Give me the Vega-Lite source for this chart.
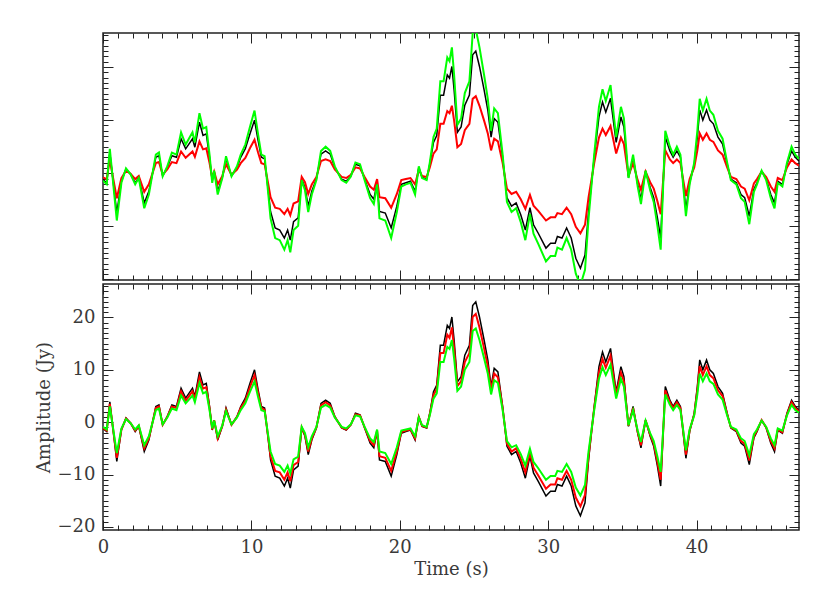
{
  "$schema": "https://vega.github.io/schema/vega-lite/v6.json",
  "background": "white",
  "padding": {"left": 34, "top": 31, "right": 31, "bottom": 5},
  "spacing": 0,
  "config": {
    "view": {"stroke": "#222", "strokeWidth": 1.5},
    "axis": {"grid": false, "domain": false, "labelFont": "DejaVu Serif", "titleFont": "DejaVu Serif", "labelFontSize": 18, "titleFontSize": 18, "labelColor": "#3a3a3a", "titleColor": "#3a3a3a", "titleFontWeight": "normal", "tickColor": "#222", "tickWidth": 1, "labelOverlap": false, "labelFlush": false, "labelBound": false}
  },
  "datasets": {
    "d": [
      {"t":0,"k":-1.2,"r1":-0.8,"g1":-1.4,"r2":-1.1,"g2":-0.9},
      {"t":0.25,"k":-1.8,"r1":-1.1,"g1":-2.1,"r2":-1.6,"g2":-1.4},
      {"t":0.46,"k":3.9,"r1":2.5,"g1":4.6,"r2":3.5,"g2":3.0},
      {"t":0.93,"k":-7.5,"r1":-4.7,"g1":-8.9,"r2":-6.8,"g2":-5.9},
      {"t":1.24,"k":-1.5,"r1":-0.9,"g1":-1.8,"r2":-1.4,"g2":-1.2},
      {"t":1.55,"k":0.8,"r1":0.5,"g1":0.9,"r2":0.7,"g2":0.6},
      {"t":1.86,"k":-0.2,"r1":-0.1,"g1":-0.2,"r2":-0.2,"g2":-0.2},
      {"t":2.17,"k":-1.8,"r1":-1.1,"g1":-2.1,"r2":-1.6,"g2":-1.4},
      {"t":2.41,"k":-0.8,"r1":-0.5,"g1":-0.9,"r2":-0.7,"g2":-0.6},
      {"t":2.78,"k":-5.6,"r1":-3.5,"g1":-6.6,"r2":-5.0,"g2":-4.4},
      {"t":3.09,"k":-3.4,"r1":-2.1,"g1":-4.0,"r2":-3.1,"g2":-2.7},
      {"t":3.56,"k":3.0,"r1":1.9,"g1":3.5,"r2":2.7,"g2":2.3},
      {"t":3.77,"k":3.3,"r1":2.1,"g1":3.9,"r2":3.0,"g2":2.6},
      {"t":4.02,"k":-0.5,"r1":-0.3,"g1":-0.6,"r2":-0.5,"g2":-0.4},
      {"t":4.33,"k":1.1,"r1":0.7,"g1":1.3,"r2":1.0,"g2":0.9},
      {"t":4.64,"k":3.3,"r1":2.1,"g1":3.9,"r2":3.0,"g2":2.6},
      {"t":4.95,"k":3.0,"r1":1.9,"g1":3.5,"r2":2.7,"g2":2.3},
      {"t":5.26,"k":6.5,"r1":4.1,"g1":7.7,"r2":5.9,"g2":5.1},
      {"t":5.57,"k":4.6,"r1":2.9,"g1":5.4,"r2":4.1,"g2":3.6},
      {"t":6.03,"k":6.5,"r1":4.1,"g1":7.7,"r2":5.9,"g2":5.1},
      {"t":6.19,"k":4.9,"r1":3.1,"g1":5.8,"r2":4.4,"g2":3.8},
      {"t":6.5,"k":9.6,"r1":6.0,"g1":11.3,"r2":8.6,"g2":7.5},
      {"t":6.74,"k":7.1,"r1":4.5,"g1":8.4,"r2":6.4,"g2":5.5},
      {"t":6.96,"k":7.4,"r1":4.7,"g1":8.7,"r2":6.7,"g2":5.8},
      {"t":7.18,"k":3.0,"r1":1.9,"g1":3.5,"r2":2.7,"g2":2.3},
      {"t":7.36,"k":-1.5,"r1":-0.9,"g1":-1.8,"r2":-1.4,"g2":-1.2},
      {"t":7.49,"k":0.4,"r1":0.3,"g1":0.5,"r2":0.4,"g2":0.3},
      {"t":7.73,"k":-3.4,"r1":-2.1,"g1":-4.0,"r2":-3.1,"g2":-2.7},
      {"t":8.04,"k":-0.8,"r1":-0.5,"g1":-0.9,"r2":-0.7,"g2":-0.6},
      {"t":8.29,"k":2.7,"r1":1.7,"g1":3.2,"r2":2.4,"g2":2.1},
      {"t":8.66,"k":-0.5,"r1":-0.3,"g1":-0.6,"r2":-0.5,"g2":-0.4},
      {"t":9.03,"k":1.1,"r1":0.7,"g1":1.3,"r2":1.0,"g2":0.9},
      {"t":9.28,"k":3.0,"r1":1.9,"g1":3.5,"r2":2.7,"g2":2.3},
      {"t":9.59,"k":4.6,"r1":2.9,"g1":5.4,"r2":4.1,"g2":3.6},
      {"t":9.9,"k":7.4,"r1":4.7,"g1":8.7,"r2":6.7,"g2":5.8},
      {"t":10.21,"k":10.0,"r1":6.3,"g1":11.8,"r2":9.0,"g2":7.8},
      {"t":10.45,"k":6.2,"r1":3.9,"g1":7.3,"r2":5.6,"g2":4.8},
      {"t":10.67,"k":3.0,"r1":1.9,"g1":3.5,"r2":2.7,"g2":2.3},
      {"t":10.89,"k":2.7,"r1":1.7,"g1":3.2,"r2":2.4,"g2":2.1},
      {"t":11.14,"k":-3.4,"r1":-2.1,"g1":-4.0,"r2":-3.1,"g2":-2.7},
      {"t":11.29,"k":-7.2,"r1":-4.5,"g1":-8.5,"r2":-6.5,"g2":-5.6},
      {"t":11.6,"k":-10.3,"r1":-6.5,"g1":-12.2,"r2":-9.3,"g2":-8.0},
      {"t":11.91,"k":-10.7,"r1":-6.7,"g1":-12.6,"r2":-9.6,"g2":-8.3},
      {"t":12.22,"k":-12.2,"r1":-7.7,"g1":-14.4,"r2":-11.0,"g2":-9.5},
      {"t":12.44,"k":-10.7,"r1":-6.7,"g1":-12.6,"r2":-9.6,"g2":-8.3},
      {"t":12.62,"k":-12.6,"r1":-7.9,"g1":-14.9,"r2":-11.3,"g2":-9.8},
      {"t":12.84,"k":-9.1,"r1":-5.7,"g1":-10.7,"r2":-8.2,"g2":-7.1},
      {"t":13.15,"k":-8.4,"r1":-5.3,"g1":-9.9,"r2":-7.6,"g2":-6.6},
      {"t":13.39,"k":-1.1,"r1":-0.7,"g1":-1.3,"r2":-1.0,"g2":-0.9},
      {"t":13.61,"k":-2.7,"r1":-1.7,"g1":-3.2,"r2":-2.4,"g2":-2.1},
      {"t":13.83,"k":-6.2,"r1":-3.9,"g1":-7.3,"r2":-5.6,"g2":-4.8},
      {"t":14.07,"k":-3.4,"r1":-2.1,"g1":-4.0,"r2":-3.1,"g2":-2.7},
      {"t":14.38,"k":-1.1,"r1":-0.7,"g1":-1.3,"r2":-1.0,"g2":-0.9},
      {"t":14.69,"k":3.6,"r1":2.3,"g1":4.2,"r2":3.2,"g2":2.8},
      {"t":15.0,"k":4.2,"r1":2.6,"g1":5.0,"r2":3.8,"g2":3.3},
      {"t":15.31,"k":3.6,"r1":2.3,"g1":4.2,"r2":3.2,"g2":2.8},
      {"t":15.62,"k":1.1,"r1":0.7,"g1":1.3,"r2":1.0,"g2":0.9},
      {"t":16.08,"k":-1.1,"r1":-0.7,"g1":-1.3,"r2":-1.0,"g2":-0.9},
      {"t":16.39,"k":-1.5,"r1":-0.9,"g1":-1.8,"r2":-1.4,"g2":-1.2},
      {"t":16.7,"k":-0.5,"r1":-0.3,"g1":-0.6,"r2":-0.5,"g2":-0.4},
      {"t":17.01,"k":1.7,"r1":1.1,"g1":2.0,"r2":1.5,"g2":1.3},
      {"t":17.32,"k":1.4,"r1":0.9,"g1":1.7,"r2":1.3,"g2":1.1},
      {"t":17.63,"k":-1.1,"r1":-0.7,"g1":-1.3,"r2":-1.0,"g2":-0.9},
      {"t":18.0,"k":-4.0,"r1":-2.5,"g1":-4.7,"r2":-3.6,"g2":-3.1},
      {"t":18.25,"k":-4.9,"r1":-3.1,"g1":-5.8,"r2":-4.4,"g2":-3.8},
      {"t":18.47,"k":-1.8,"r1":-1.1,"g1":-2.1,"r2":-1.6,"g2":-1.4},
      {"t":18.63,"k":-7.2,"r1":-4.5,"g1":-8.5,"r2":-6.5,"g2":-5.6},
      {"t":19.02,"k":-7.5,"r1":-4.7,"g1":-8.9,"r2":-6.8,"g2":-5.9},
      {"t":19.42,"k":-10.3,"r1":-6.5,"g1":-12.2,"r2":-9.3,"g2":-8.0},
      {"t":19.8,"k":-6.2,"r1":-3.9,"g1":-7.3,"r2":-5.6,"g2":-4.8},
      {"t":20.1,"k":-2.1,"r1":-1.3,"g1":-2.5,"r2":-1.9,"g2":-1.6},
      {"t":20.41,"k":-1.8,"r1":-1.1,"g1":-2.1,"r2":-1.6,"g2":-1.4},
      {"t":20.72,"k":-1.5,"r1":-0.9,"g1":-1.8,"r2":-1.4,"g2":-1.2},
      {"t":21.03,"k":-3.4,"r1":-2.1,"g1":-4.0,"r2":-3.1,"g2":-2.7},
      {"t":21.28,"k":1.1,"r1":0.7,"g1":1.3,"r2":1.0,"g2":0.9},
      {"t":21.5,"k":-0.8,"r1":-0.5,"g1":-0.9,"r2":-0.7,"g2":-0.6},
      {"t":21.81,"k":-1.1,"r1":-0.7,"g1":-1.3,"r2":-1.0,"g2":-0.9},
      {"t":22.02,"k":1.7,"r1":1.1,"g1":2.0,"r2":1.5,"g2":1.3},
      {"t":22.27,"k":5.8,"r1":3.7,"g1":6.8,"r2":5.2,"g2":4.5},
      {"t":22.49,"k":7.1,"r1":4.5,"g1":8.4,"r2":6.4,"g2":5.5},
      {"t":22.73,"k":14.7,"r1":9.3,"g1":17.3,"r2":13.2,"g2":11.5},
      {"t":22.95,"k":14.7,"r1":9.3,"g1":17.3,"r2":13.2,"g2":11.5},
      {"t":23.2,"k":18.5,"r1":11.7,"g1":21.8,"r2":16.7,"g2":14.4},
      {"t":23.35,"k":17.9,"r1":11.3,"g1":21.1,"r2":16.1,"g2":14.0},
      {"t":23.51,"k":20.1,"r1":12.7,"g1":23.7,"r2":18.1,"g2":15.7},
      {"t":23.66,"k":15.7,"r1":9.9,"g1":18.5,"r2":14.1,"g2":12.2},
      {"t":23.88,"k":7.7,"r1":4.9,"g1":9.1,"r2":6.9,"g2":6.0},
      {"t":24.13,"k":8.7,"r1":5.5,"g1":10.3,"r2":7.8,"g2":6.8},
      {"t":24.38,"k":12.8,"r1":8.1,"g1":15.1,"r2":11.5,"g2":10.0},
      {"t":24.69,"k":14.7,"r1":9.3,"g1":17.3,"r2":13.2,"g2":11.5},
      {"t":24.91,"k":22.3,"r1":14.0,"g1":26.3,"r2":20.1,"g2":17.4},
      {"t":25.12,"k":23.0,"r1":14.5,"g1":27.1,"r2":20.7,"g2":17.9},
      {"t":25.37,"k":20.1,"r1":12.7,"g1":23.7,"r2":18.1,"g2":15.7},
      {"t":25.68,"k":15.7,"r1":9.9,"g1":18.5,"r2":14.1,"g2":12.2},
      {"t":25.93,"k":11.9,"r1":7.5,"g1":14.0,"r2":10.7,"g2":9.3},
      {"t":26.15,"k":6.8,"r1":4.3,"g1":8.0,"r2":6.1,"g2":5.3},
      {"t":26.36,"k":10.3,"r1":6.5,"g1":12.2,"r2":9.3,"g2":8.0},
      {"t":26.61,"k":9.6,"r1":6.0,"g1":11.3,"r2":8.6,"g2":7.5},
      {"t":26.93,"k":3.0,"r1":1.9,"g1":3.5,"r2":2.7,"g2":2.3},
      {"t":27.22,"k":-4.6,"r1":-2.9,"g1":-5.4,"r2":-4.1,"g2":-3.6},
      {"t":27.53,"k":-6.2,"r1":-3.9,"g1":-7.3,"r2":-5.6,"g2":-4.8},
      {"t":27.84,"k":-5.6,"r1":-3.5,"g1":-6.6,"r2":-5.0,"g2":-4.4},
      {"t":28.15,"k":-7.8,"r1":-4.9,"g1":-9.2,"r2":-7.0,"g2":-6.1},
      {"t":28.46,"k":-10.7,"r1":-6.7,"g1":-12.6,"r2":-9.6,"g2":-8.3},
      {"t":28.77,"k":-6.5,"r1":-4.1,"g1":-7.7,"r2":-5.9,"g2":-5.1},
      {"t":29.01,"k":-9.7,"r1":-6.1,"g1":-11.4,"r2":-8.7,"g2":-7.6},
      {"t":29.33,"k":-11.3,"r1":-7.1,"g1":-13.3,"r2":-10.2,"g2":-8.8},
      {"t":29.85,"k":-14.1,"r1":-8.9,"g1":-16.6,"r2":-12.7,"g2":-11.0},
      {"t":30.16,"k":-13.2,"r1":-8.3,"g1":-15.6,"r2":-11.9,"g2":-10.3},
      {"t":30.47,"k":-13.2,"r1":-8.3,"g1":-15.6,"r2":-11.9,"g2":-10.3},
      {"t":30.62,"k":-11.9,"r1":-7.5,"g1":-14.0,"r2":-10.7,"g2":-9.3},
      {"t":30.93,"k":-12.2,"r1":-7.7,"g1":-14.4,"r2":-11.0,"g2":-9.5},
      {"t":31.24,"k":-10.3,"r1":-6.5,"g1":-12.2,"r2":-9.3,"g2":-8.0},
      {"t":31.55,"k":-12.2,"r1":-7.7,"g1":-14.4,"r2":-11.0,"g2":-9.5},
      {"t":31.86,"k":-16.0,"r1":-10.1,"g1":-18.9,"r2":-14.4,"g2":-12.5},
      {"t":32.17,"k":-17.9,"r1":-11.3,"g1":-21.1,"r2":-16.1,"g2":-14.0},
      {"t":32.48,"k":-15.4,"r1":-9.7,"g1":-18.2,"r2":-13.9,"g2":-12.0},
      {"t":32.72,"k":-7.2,"r1":-4.5,"g1":-8.5,"r2":-6.5,"g2":-5.6},
      {"t":33.1,"k":3.0,"r1":1.9,"g1":3.5,"r2":2.7,"g2":2.3},
      {"t":33.42,"k":10.6,"r1":6.7,"g1":12.5,"r2":9.5,"g2":8.3},
      {"t":33.66,"k":13.4,"r1":8.4,"g1":15.8,"r2":12.1,"g2":10.5},
      {"t":33.88,"k":11.5,"r1":7.2,"g1":13.6,"r2":10.4,"g2":9.0},
      {"t":34.2,"k":14.1,"r1":8.9,"g1":16.6,"r2":12.7,"g2":11.0},
      {"t":34.33,"k":11.2,"r1":7.1,"g1":13.2,"r2":10.1,"g2":8.7},
      {"t":34.58,"k":5.8,"r1":3.7,"g1":6.8,"r2":5.2,"g2":4.5},
      {"t":34.9,"k":10.6,"r1":6.7,"g1":12.5,"r2":9.5,"g2":8.3},
      {"t":35.1,"k":8.7,"r1":5.5,"g1":10.3,"r2":7.8,"g2":6.8},
      {"t":35.41,"k":-0.8,"r1":-0.5,"g1":-0.9,"r2":-0.7,"g2":-0.6},
      {"t":35.72,"k":3.0,"r1":1.9,"g1":3.5,"r2":2.7,"g2":2.3},
      {"t":36.03,"k":-2.1,"r1":-1.3,"g1":-2.5,"r2":-1.9,"g2":-1.6},
      {"t":36.25,"k":-4.9,"r1":-3.1,"g1":-5.8,"r2":-4.4,"g2":-3.8},
      {"t":36.56,"k":0.4,"r1":0.3,"g1":0.5,"r2":0.4,"g2":0.3},
      {"t":36.87,"k":-2.7,"r1":-1.7,"g1":-3.2,"r2":-2.4,"g2":-2.1},
      {"t":37.11,"k":-4.6,"r1":-2.9,"g1":-5.4,"r2":-4.1,"g2":-3.6},
      {"t":37.36,"k":-8.4,"r1":-5.3,"g1":-9.9,"r2":-7.6,"g2":-6.6},
      {"t":37.58,"k":-12.2,"r1":-7.7,"g1":-14.4,"r2":-11.0,"g2":-9.5},
      {"t":37.89,"k":6.8,"r1":4.3,"g1":8.0,"r2":6.1,"g2":5.3},
      {"t":38.2,"k":4.2,"r1":2.6,"g1":5.0,"r2":3.8,"g2":3.3},
      {"t":38.42,"k":3.0,"r1":1.9,"g1":3.5,"r2":2.7,"g2":2.3},
      {"t":38.67,"k":4.2,"r1":2.6,"g1":5.0,"r2":3.8,"g2":3.3},
      {"t":38.91,"k":3.0,"r1":1.9,"g1":3.5,"r2":2.7,"g2":2.3},
      {"t":39.28,"k":-6.9,"r1":-4.3,"g1":-8.1,"r2":-6.2,"g2":-5.4},
      {"t":39.53,"k":-1.8,"r1":-1.1,"g1":-2.1,"r2":-1.6,"g2":-1.4},
      {"t":39.84,"k":1.7,"r1":1.1,"g1":2.0,"r2":1.5,"g2":1.3},
      {"t":40.05,"k":6.8,"r1":4.3,"g1":8.0,"r2":6.1,"g2":5.3},
      {"t":40.21,"k":11.9,"r1":7.5,"g1":14.0,"r2":10.7,"g2":9.3},
      {"t":40.42,"k":10.0,"r1":6.3,"g1":11.8,"r2":9.0,"g2":7.8},
      {"t":40.67,"k":11.9,"r1":7.5,"g1":14.0,"r2":10.7,"g2":9.3},
      {"t":40.89,"k":10.0,"r1":6.3,"g1":11.8,"r2":9.0,"g2":7.8},
      {"t":41.13,"k":9.3,"r1":5.9,"g1":11.0,"r2":8.4,"g2":7.3},
      {"t":41.44,"k":6.8,"r1":4.3,"g1":8.0,"r2":6.1,"g2":5.3},
      {"t":41.75,"k":5.5,"r1":3.5,"g1":6.5,"r2":5.0,"g2":4.3},
      {"t":42.06,"k":1.7,"r1":1.1,"g1":2.0,"r2":1.5,"g2":1.3},
      {"t":42.31,"k":-1.1,"r1":-0.7,"g1":-1.3,"r2":-1.0,"g2":-0.9},
      {"t":42.68,"k":-1.8,"r1":-1.1,"g1":-2.1,"r2":-1.6,"g2":-1.4},
      {"t":42.99,"k":-4.0,"r1":-2.5,"g1":-4.7,"r2":-3.6,"g2":-3.1},
      {"t":43.24,"k":-4.6,"r1":-2.9,"g1":-5.4,"r2":-4.1,"g2":-3.6},
      {"t":43.55,"k":-8.1,"r1":-5.1,"g1":-9.6,"r2":-7.3,"g2":-6.3},
      {"t":43.86,"k":-3.0,"r1":-1.9,"g1":-3.5,"r2":-2.7,"g2":-2.3},
      {"t":44.07,"k":-1.8,"r1":-1.1,"g1":-2.1,"r2":-1.6,"g2":-1.4},
      {"t":44.38,"k":0.4,"r1":0.3,"g1":0.5,"r2":0.4,"g2":0.3},
      {"t":44.69,"k":-1.1,"r1":-0.7,"g1":-1.3,"r2":-1.0,"g2":-0.9},
      {"t":45.0,"k":-4.0,"r1":-2.5,"g1":-4.7,"r2":-3.6,"g2":-3.1},
      {"t":45.25,"k":-5.6,"r1":-3.5,"g1":-6.6,"r2":-5.0,"g2":-4.4},
      {"t":45.47,"k":-1.5,"r1":-0.9,"g1":-1.8,"r2":-1.4,"g2":-1.2},
      {"t":45.78,"k":-2.1,"r1":-1.3,"g1":-2.5,"r2":-1.9,"g2":-1.6},
      {"t":46.09,"k":1.7,"r1":1.1,"g1":2.0,"r2":1.5,"g2":1.3},
      {"t":46.4,"k":4.2,"r1":2.6,"g1":5.0,"r2":3.8,"g2":3.3},
      {"t":46.65,"k":3.0,"r1":1.9,"g1":3.5,"r2":2.7,"g2":2.3},
      {"t":46.9,"k":2.3,"r1":1.4,"g1":2.7,"r2":2.1,"g2":1.8}
    ]
  },
  "vconcat": [
    {
      "width": 696,
      "height": 247,
      "data": {"name": "d"},
      "layer": [
        {
          "mark": {"type": "line", "color": "#000000", "strokeWidth": 1.5, "clip": true},
          "encoding": {
            "x": {"field": "t", "type": "quantitative", "scale": {"domain": [0, 46.9], "nice": false, "zero": false},
              "axis": {"orient": "bottom", "title": null, "labels": false, "values": [0,1,2,3,4,5,6,7,8,9,10,11,12,13,14,15,16,17,18,19,20,21,22,23,24,25,26,27,28,29,30,31,32,33,34,35,36,37,38,39,40,41,42,43,44,45,46],
                "tickSize": {"condition": {"test": "datum.value % 10 === 0", "value": -10}, "value": -5}}},
            "y": {"field": "k", "type": "quantitative", "scale": {"domain": [-20.1, 26.4], "nice": false, "zero": false},
              "axis": {"orient": "left", "title": null, "labels": false, "values": [-20,-19,-18,-17,-16,-15,-14,-13,-12,-11,-10,-9,-8,-7,-6,-5,-4,-3,-2,-1,0,1,2,3,4,5,6,7,8,9,10,11,12,13,14,15,16,17,18,19,20,21,22,23,24,25,26],
                "tickSize": {"condition": {"test": "datum.value % 10 === 0", "value": -10}, "value": -5}}}
          }
        },
        {
          "mark": {"type": "line", "color": "#ff0000", "strokeWidth": 2, "clip": true},
          "encoding": {
            "x": {"field": "t", "type": "quantitative", "scale": {"domain": [0, 46.9], "nice": false, "zero": false},
              "axis": {"orient": "top", "title": null, "labels": false, "values": [0,1,2,3,4,5,6,7,8,9,10,11,12,13,14,15,16,17,18,19,20,21,22,23,24,25,26,27,28,29,30,31,32,33,34,35,36,37,38,39,40,41,42,43,44,45,46],
                "tickSize": {"condition": {"test": "datum.value % 10 === 0", "value": -10}, "value": -5}}},
            "y": {"field": "r1", "type": "quantitative", "scale": {"domain": [-20.1, 26.4], "nice": false, "zero": false},
              "axis": {"orient": "right", "title": null, "labels": false, "values": [-20,-19,-18,-17,-16,-15,-14,-13,-12,-11,-10,-9,-8,-7,-6,-5,-4,-3,-2,-1,0,1,2,3,4,5,6,7,8,9,10,11,12,13,14,15,16,17,18,19,20,21,22,23,24,25,26],
                "tickSize": {"condition": {"test": "datum.value % 10 === 0", "value": -10}, "value": -5}}}
          }
        },
        {
          "mark": {"type": "line", "color": "#00ff00", "strokeWidth": 2, "clip": true},
          "encoding": {
            "x": {"field": "t", "type": "quantitative", "scale": {"domain": [0, 46.9], "nice": false, "zero": false}, "axis": null},
            "y": {"field": "g1", "type": "quantitative", "scale": {"domain": [-20.1, 26.4], "nice": false, "zero": false}, "axis": null}
          }
        }
      ],
      "resolve": {"axis": {"x": "independent", "y": "independent"}}
    },
    {
      "width": 696,
      "height": 246,
      "data": {"name": "d"},
      "layer": [
        {
          "mark": {"type": "line", "color": "#000000", "strokeWidth": 1.5, "clip": true},
          "encoding": {
            "x": {"field": "t", "type": "quantitative", "scale": {"domain": [0, 46.9], "nice": false, "zero": false},
              "axis": {"orient": "bottom", "title": "Time (s)", "titleY": 39, "titleBaseline": "middle", "labelPadding": 18, "labelExpr": "datum.value % 10 === 0 ? datum.label : ''",
                "labelFontSize": {"condition": {"test": "datum.value % 10 === 0", "value": 18}, "value": 0.1},
                "values": [0,1,2,3,4,5,6,7,8,9,10,11,12,13,14,15,16,17,18,19,20,21,22,23,24,25,26,27,28,29,30,31,32,33,34,35,36,37,38,39,40,41,42,43,44,45,46],
                "tickSize": {"condition": {"test": "datum.value % 10 === 0", "value": -10}, "value": -5}}},
            "y": {"field": "k", "type": "quantitative", "scale": {"domain": [-20.6, 26.4], "nice": false, "zero": false},
              "axis": {"orient": "left", "title": "Amplitude (Jy)", "titleX": -59, "titleBaseline": "middle", "labelPadding": 18, "labelExpr": "datum.value % 10 === 0 ? datum.label : ''",
                "labelFontSize": {"condition": {"test": "datum.value % 10 === 0", "value": 18}, "value": 0.1},
                "values": [-20,-19,-18,-17,-16,-15,-14,-13,-12,-11,-10,-9,-8,-7,-6,-5,-4,-3,-2,-1,0,1,2,3,4,5,6,7,8,9,10,11,12,13,14,15,16,17,18,19,20,21,22,23,24,25,26],
                "tickSize": {"condition": {"test": "datum.value % 10 === 0", "value": -10}, "value": -5}}}
          }
        },
        {
          "mark": {"type": "line", "color": "#ff0000", "strokeWidth": 2, "clip": true},
          "encoding": {
            "x": {"field": "t", "type": "quantitative", "scale": {"domain": [0, 46.9], "nice": false, "zero": false},
              "axis": {"orient": "top", "title": null, "labels": false, "values": [0,1,2,3,4,5,6,7,8,9,10,11,12,13,14,15,16,17,18,19,20,21,22,23,24,25,26,27,28,29,30,31,32,33,34,35,36,37,38,39,40,41,42,43,44,45,46],
                "tickSize": {"condition": {"test": "datum.value % 10 === 0", "value": -10}, "value": -5}}},
            "y": {"field": "r2", "type": "quantitative", "scale": {"domain": [-20.6, 26.4], "nice": false, "zero": false},
              "axis": {"orient": "right", "title": null, "labels": false, "values": [-20,-19,-18,-17,-16,-15,-14,-13,-12,-11,-10,-9,-8,-7,-6,-5,-4,-3,-2,-1,0,1,2,3,4,5,6,7,8,9,10,11,12,13,14,15,16,17,18,19,20,21,22,23,24,25,26],
                "tickSize": {"condition": {"test": "datum.value % 10 === 0", "value": -10}, "value": -5}}}
          }
        },
        {
          "mark": {"type": "line", "color": "#00ff00", "strokeWidth": 2, "clip": true},
          "encoding": {
            "x": {"field": "t", "type": "quantitative", "scale": {"domain": [0, 46.9], "nice": false, "zero": false}, "axis": null},
            "y": {"field": "g2", "type": "quantitative", "scale": {"domain": [-20.6, 26.4], "nice": false, "zero": false}, "axis": null}
          }
        }
      ],
      "resolve": {"axis": {"x": "independent", "y": "independent"}}
    }
  ]
}
